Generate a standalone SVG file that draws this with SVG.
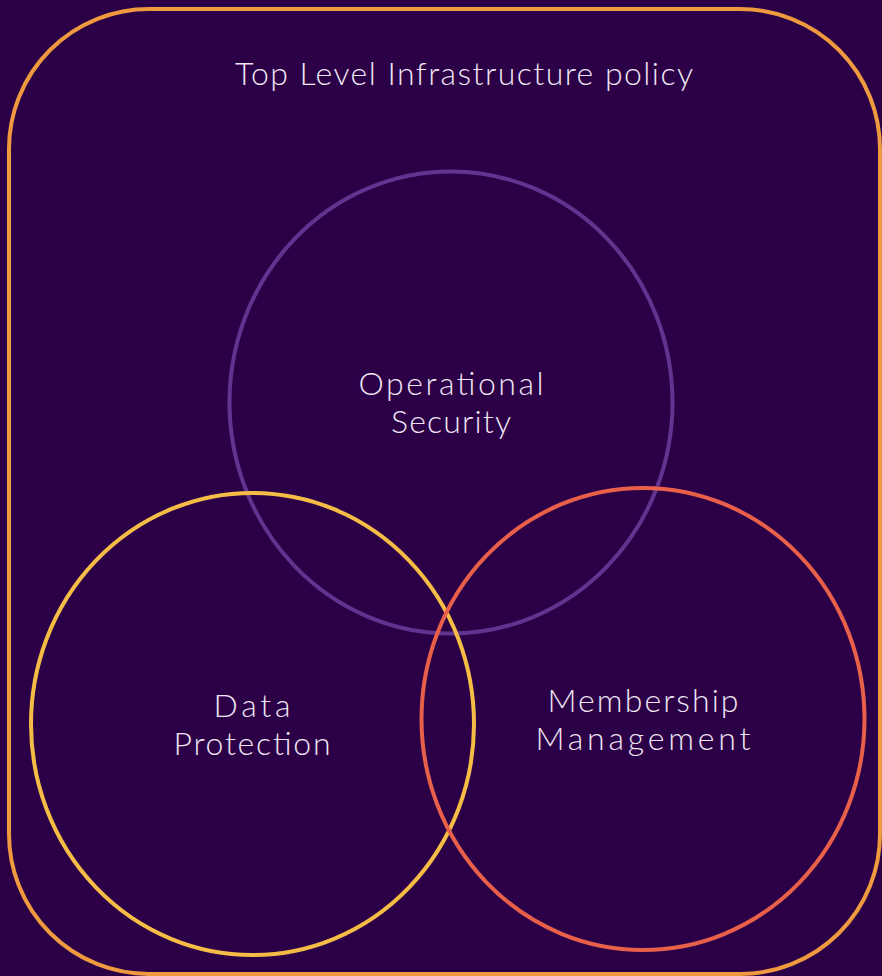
<svg xmlns="http://www.w3.org/2000/svg" width="882" height="976" viewBox="0 0 882 976">
<style>
.lbl{font-family:"Lato","Open Sans","DejaVu Sans",sans-serif;font-weight:300;font-size:32px;fill:#eee6f2;text-anchor:middle}
.c{fill:none;stroke-width:4}
</style>
<rect x="0" y="0" width="882" height="976" fill="#2c0047"/>
<g id="policy">
<rect x="9" y="9" width="871" height="965" rx="140" ry="140" fill="none" stroke="#ef9a3e" stroke-width="4"/>
<text class="lbl" x="464" y="85" textLength="458" lengthAdjust="spacing">Top Level Infrastructure policy</text>
</g>
<g id="operational-security">
<ellipse class="c" cx="451" cy="402.5" rx="221.5" ry="231" stroke="#5f3590"/>
<text class="lbl" x="451" y="395" textLength="185" lengthAdjust="spacing">Operational</text>
<text class="lbl" x="451" y="433" textLength="120" lengthAdjust="spacing">Security</text>
</g>
<g id="data-protection">
<ellipse class="c" cx="252.5" cy="724" rx="221.5" ry="231" stroke="#f5bd46"/>
<text class="lbl" x="252" y="717" textLength="77" lengthAdjust="spacing">Data</text>
<text class="lbl" x="252" y="755" textLength="157" lengthAdjust="spacing">Protection</text>
</g>
<g id="membership-management">
<ellipse class="c" cx="643" cy="719" rx="221.5" ry="231" stroke="#e8604a"/>
<text class="lbl" x="643" y="712" textLength="191" lengthAdjust="spacing">Membership</text>
<text class="lbl" x="643" y="750" textLength="215" lengthAdjust="spacing">Management</text>
</g>
<g id="connectors"/>
</svg>
